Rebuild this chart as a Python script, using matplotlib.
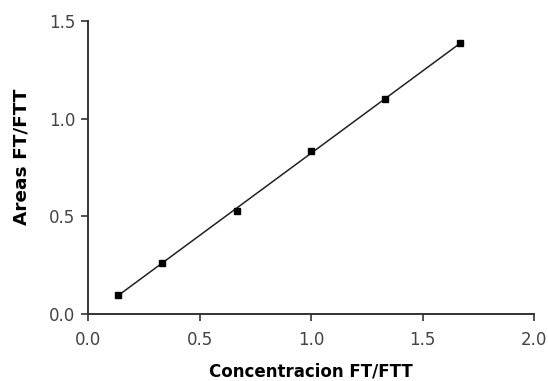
import numpy as np
import matplotlib
matplotlib.use('Agg')
import matplotlib.pyplot as plt

### data
conc  = [0.133, 0.333, 0.667, 1.000, 1.333, 1.667]   # Concentracion FT/FTT
areas = [0.097, 0.262, 0.527, 0.835, 1.100, 1.385]   # Areas FT/FTT
xticks = [0.0, 0.5, 1.0, 1.5, 2.0]
yticks = [0.0, 0.5, 1.0, 1.5]

plt.rcParams['font.family'] = ['DejaVu Sans']

fig = plt.figure(figsize=(5.48, 3.81), dpi=100)
ax = fig.add_axes([0.1606, 0.1759, 0.8139, 0.769])

# recta de regresion
a, b = np.polyfit(conc, areas, 1)
xx = np.array([min(conc), max(conc)])
ax.plot(xx, a*xx + b, color='#222222', lw=1.1)
ax.plot(conc, areas, 's', color='black', ms=4.2)

ax.set_xlim(0, 2.0)
ax.set_ylim(0, 1.5)
ax.set_xticks(xticks)
ax.set_yticks(yticks)
ax.set_xticklabels(['%.1f' % t for t in xticks])
ax.set_yticklabels(['%.1f' % t for t in yticks])

for s in ['top', 'right']:
    ax.spines[s].set_visible(False)
for s in ['left', 'bottom']:
    ax.spines[s].set_linewidth(1.4)
    ax.spines[s].set_color('#333333')
ax.tick_params(direction='out', length=5, width=1.2, colors='#333333',
               labelsize=12, labelcolor='#444444')
ax.tick_params(axis='x', pad=7)
ax.tick_params(axis='y', pad=4)

ax.set_xlabel('Concentracion FT/FTT', fontsize=12, fontweight='bold', labelpad=10)
ax.set_ylabel('Areas FT/FTT', fontsize=13.3, fontweight='bold')
ax.yaxis.set_label_coords(-0.128, 0.536)

fig.savefig('out.png', dpi=100)
